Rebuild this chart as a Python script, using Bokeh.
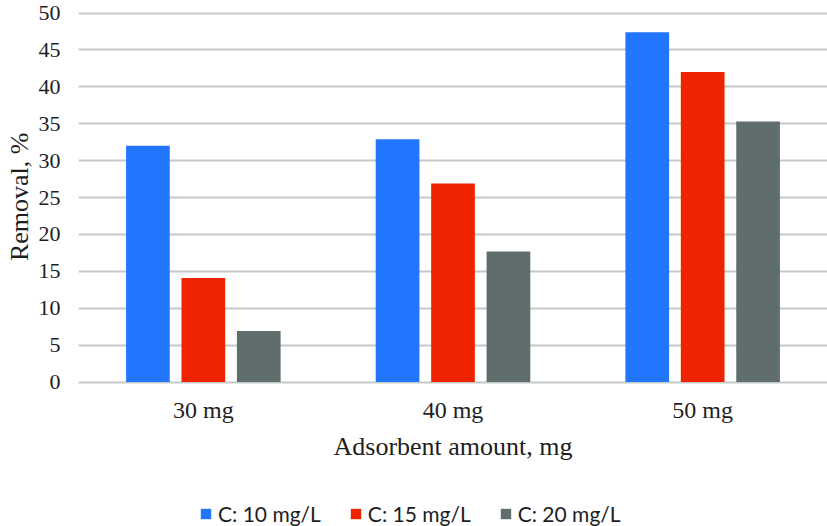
from bokeh.plotting import figure
from bokeh.models import ColumnDataSource, FactorRange, Range1d, Legend, LegendItem, Title
from bokeh.transform import dodge
from bokeh.embed import file_html
from bokeh.resources import INLINE

# Removal (%) for each adsorbent amount and initial concentration
amounts = ["30 mg", "40 mg", "50 mg"]
c10 = [32.0, 32.9, 47.4]
c15 = [14.1, 26.9, 42.0]
c20 = [6.9, 17.7, 35.3]
series_names = ["C: 10 mg/L", "C: 15 mg/L", "C: 20 mg/L"]
colors = ["#2276FE", "#EF2300", "#5F6E6C"]
y_ticks = [0, 5, 10, 15, 20, 25, 30, 35, 40, 45, 50]

source = ColumnDataSource(dict(amount=amounts, c10=c10, c15=c15, c20=c20))

serif = "Liberation Serif"
text_color = "#1E1E1E"

# The frame runs to the bottom edge; the category axis sits at y = 0 and the
# legend below it, both inside the frame area.
p = figure(
    width=827, height=526,
    x_range=FactorRange(*amounts, range_padding=0),
    y_range=Range1d(-19.58, 50.34),
    output_backend="svg", toolbar_location=None,
    min_border_left=78, min_border_right=0, min_border_top=10, min_border_bottom=0,
    outline_line_color=None,
)
p.background_fill_color = "white"
p.border_fill_color = "white"

bar_w = 0.175
offsets = [-0.222, 0.0, 0.222]
renderers = []
for col, off, color in zip(["c10", "c15", "c20"], offsets, colors):
    r = p.vbar(x=dodge("amount", off, range=p.x_range), top=col, bottom=0,
               width=bar_w, source=source, fill_color=color, line_color=None)
    renderers.append(r)

# grid
p.xgrid.grid_line_color = None
p.ygrid.grid_line_color = "#C3C9C6"
p.ygrid.grid_line_width = 2
p.yaxis.ticker = y_ticks

# y axis
p.yaxis.axis_line_color = None
p.yaxis.major_tick_line_color = None
p.yaxis.minor_tick_line_color = None
p.yaxis.major_label_standoff = 12
p.yaxis.major_label_text_font = serif
p.yaxis.major_label_text_font_size = "22px"
p.yaxis.major_label_text_color = text_color

# y axis title, placed against the 0-50 span rather than the whole frame
p.add_layout(Title(text="Removal, %", align="right", offset=122,
                   text_font=serif, text_font_size="26px", text_font_style="normal",
                   text_color=text_color, standoff=4), "left")

# x axis, pinned at y = 0
p.xaxis.fixed_location = 0
p.xaxis.axis_line_color = None
p.xaxis.major_tick_line_color = None
p.xaxis.minor_tick_line_color = None
p.xaxis.major_label_standoff = 9
p.xaxis.major_label_text_font = serif
p.xaxis.major_label_text_font_size = "24px"
p.xaxis.major_label_text_color = text_color
p.xaxis.axis_label = "Adsorbent amount, mg"
p.xaxis.axis_label_text_font = serif
p.xaxis.axis_label_text_font_size = "26px"
p.xaxis.axis_label_text_font_style = "normal"
p.xaxis.axis_label_text_color = text_color
p.xaxis.axis_label_standoff = 5

legend = Legend(
    items=[LegendItem(label=n, renderers=[r]) for n, r in zip(series_names, renderers)],
    orientation="horizontal",
    location=(121, 0),
    label_text_font="Lato",
    label_text_font_size="21px",
    label_text_color=text_color,
    glyph_width=13, glyph_height=13,
    label_standoff=6,
    spacing=28,
    padding=0, margin=0,
    border_line_color=None,
    background_fill_alpha=0,
)
p.add_layout(legend, "center")

open("out.html", "w").write(file_html(p, INLINE))
